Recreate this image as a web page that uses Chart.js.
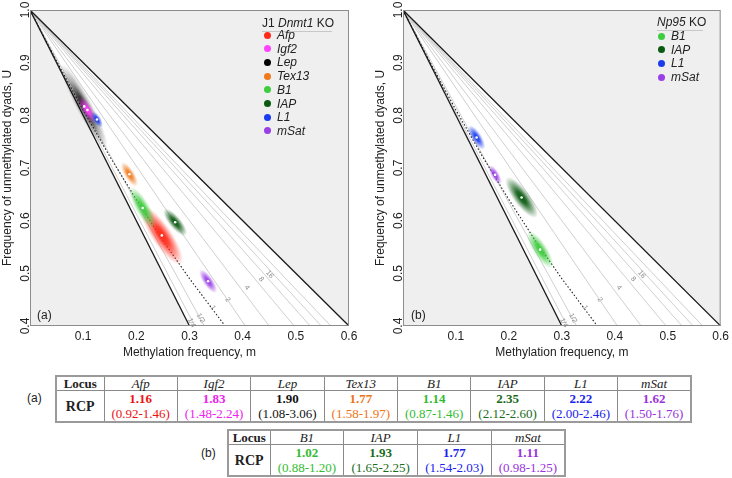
<!DOCTYPE html>
<html><head><meta charset="utf-8">
<script src="https://cdn.jsdelivr.net/npm/chart.js@4.4.1/dist/chart.umd.min.js"></script>
<style>
body{margin:0;width:732px;height:478px;background:#fff;position:relative;overflow:hidden;font-family:"Liberation Sans",Arial,sans-serif;color:#222}
.panel{position:absolute;top:0}
.leg{position:absolute;font-size:12px;line-height:14px;color:#222;white-space:nowrap}
.leg .ttl{position:absolute;left:0;top:0;padding-bottom:1px;border-bottom:1px solid #c8c8c8}
.leg .it{position:absolute;font-style:italic}
.leg .dot{position:absolute;width:7px;height:7px;border-radius:50%}
.plab{position:absolute;font-size:12px;color:#222}
table{position:absolute;border-collapse:collapse;font-family:"Liberation Serif","Times New Roman",serif;font-size:13px;border:2px solid #9a9a9a;table-layout:fixed}
td{border:1px solid #8a8a8a;text-align:center;padding:0;line-height:15px}
tr.h td{height:13px;line-height:13px;font-style:italic}
tr.h td.lc{font-style:normal;font-weight:bold}
tr.v td{height:30px}
td.rc{font-weight:bold;font-size:14px}
.b{font-weight:bold}
</style></head>
<body>
<div class="panel" style="left:0"><canvas id="cA" width="366" height="370"></canvas></div>
<div class="panel" style="left:366px"><canvas id="cB" width="366" height="370"></canvas></div>
<div id="legA" class="leg" style="left:262px;top:16px"></div>
<div id="legB" class="leg" style="left:657px;top:15px"></div>
<div class="plab" style="left:37px;top:308px">(a)</div>
<div class="plab" style="left:411px;top:308px">(b)</div>
<div class="plab" style="left:27px;top:391px">(a)</div>
<div class="plab" style="left:201px;top:446px">(b)</div>
<table id="tA" style="left:55px;top:375px;width:637px"></table>
<table id="tB" style="left:227px;top:429px;width:339px"></table>
<script>
// ---------- data ----------
const lociA = ['Afp','Igf2','Lep','Tex13','B1','IAP','L1','mSat'];
const mA    = [0.248, 0.108, 0.102, 0.187, 0.212, 0.273, 0.126, 0.335];
const uA    = [0.572, 0.810, 0.817, 0.688, 0.624, 0.597, 0.792, 0.485];
const rcpA  = ['1.16','1.83','1.90','1.77','1.14','2.35','2.22','1.62'];
const ciA   = ['0.92-1.46','1.48-2.24','1.08-3.06','1.58-1.97','0.87-1.46','2.12-2.60','2.00-2.46','1.50-1.76'];

const lociB = ['B1','IAP','L1','mSat'];
const mB    = [0.259, 0.224, 0.139, 0.174];
const uB    = [0.545, 0.644, 0.758, 0.687];
const rcpB  = ['1.02','1.93','1.77','1.11'];
const ciB   = ['0.88-1.20','1.65-2.25','1.54-2.03','0.98-1.25'];

const xTicks = [0.1, 0.2, 0.3, 0.4, 0.5, 0.6];
const xTickLabels = ['0.1','0.2','0.3','0.4','0.5','0.6'];
const yTicks = [0.4, 0.5, 0.6, 0.7, 0.8, 0.9, 1.0];
const yTickLabels = ['0.4','0.5','0.6','0.7','0.8','0.9','1.0'];

// boundary lines (m, U)
const lowerM = [0, 0.3],  lowerU = [1, 0.4];
const upperM = [0, 0.6],  upperU = [1, 0.4];
// grey RCP contour lines: end m at U = 0.4
const contourEnds = [0.31, 0.328, 0.405, 0.45, 0.497, 0.527, 0.548, 0.566];
// dotted line (RCP = 1)
const dotM = [0, 0.05, 0.1, 0.15, 0.2, 0.25, 0.3, 0.367];
const dotU = [1, 0.903, 0.81, 0.722, 0.64, 0.562, 0.49, 0.4];
// contour labels
const labTxt = ['1/4','1/2','1','2','4','8','16'];
const labM   = [0.304, 0.321, 0.344, 0.372, 0.408, 0.435, 0.451];
const labU   = [0.406, 0.415, 0.435, 0.450, 0.473, 0.489, 0.498];
const labEnd = [0.31, 0.328, 0.367, 0.405, 0.45, 0.497, 0.527];

// ---------- styles ----------
const col = {Afp:'#ff2a1a', Igf2:'#ff44ff', Lep:'#000000', Tex13:'#f07a1e', B1:'#3fcc3f', IAP:'#0b5a12', L1:'#1a3cee', mSat:'#9a3ee6'};
const tcol = {Afp:'#ee1111', Igf2:'#ee22ee', Lep:'#111111', Tex13:'#ee7418', B1:'#33bb33', IAP:'#1a6b1a', L1:'#1a22ee', mSat:'#9933dd'};
// semi-major, semi-minor, rotation(deg)
const blobA = {Afp:[35,10,56], Igf2:[15,5,60], Lep:[48,8,62], Tex13:[14,5,58], B1:[24,7,60], IAP:[17,6,50], L1:[9,4,58], mSat:[14,5,55]};
const blobB = {B1:[22,7,57], IAP:[25,8,53], L1:[14,5,58], mSat:[11,4,60]};

function hexRgb(h){return [parseInt(h.substr(1,2),16),parseInt(h.substr(3,2),16),parseInt(h.substr(5,2),16)];}
function blobImg(color, a, b, soft){
  const c = document.createElement('canvas');
  c.width = 2*a+4; c.height = 2*b+4;
  const x = c.getContext('2d');
  const [r,g,bl] = hexRgb(color);
  const rg = (al)=>`rgba(${r},${g},${bl},${al})`;
  x.translate(c.width/2, c.height/2);
  x.scale(a, b);
  const gr = x.createRadialGradient(0,0,0,0,0,1);
  if (soft){
    gr.addColorStop(0, rg(0.95)); gr.addColorStop(0.25, rg(0.75)); gr.addColorStop(0.6, rg(0.3)); gr.addColorStop(1, rg(0));
  } else {
    gr.addColorStop(0, rg(1)); gr.addColorStop(0.3, rg(0.9)); gr.addColorStop(0.65, rg(0.45)); gr.addColorStop(1, rg(0));
  }
  x.fillStyle = gr;
  x.beginPath(); x.arc(0,0,1,0,Math.PI*2); x.fill();
  return c;
}

const bgPlugin = {
  id:'bg',
  beforeDatasetsDraw(chart){
    const {ctx, chartArea:a} = chart;
    ctx.save(); ctx.fillStyle = '#efefef';
    ctx.fillRect(a.left, a.top, a.right-a.left, a.bottom-a.top); ctx.restore();
  },
  afterDatasetsDraw(chart){
    const {ctx, chartArea:a, scales:{x, y}} = chart;
    ctx.save();
    ctx.font = '7px "Liberation Sans", Arial, sans-serif';
    ctx.fillStyle = '#8a8a8a';
    ctx.textAlign = 'center'; ctx.textBaseline = 'middle';
    for (let i=0;i<labTxt.length;i++){
      const px = x.getPixelForValue(labM[i]), py = y.getPixelForValue(labU[i]);
      const dx = x.getPixelForValue(labEnd[i]) - x.getPixelForValue(0);
      const dy = y.getPixelForValue(0.4) - y.getPixelForValue(1);
      ctx.save(); ctx.translate(px, py); ctx.rotate(Math.atan2(dy, dx)); ctx.fillText(labTxt[i], 0, 0); ctx.restore();
    }
    ctx.strokeStyle = '#8c8c8c'; ctx.lineWidth = 1;
    ctx.strokeRect(a.left+0.5, a.top+0.5, a.right-a.left-1, a.bottom-a.top-1);
    ctx.restore();
  }
};

function build(id, loci, mv, uv, bst, padLeft, padRight){
  const ds = [];
  const pts = (ms, us) => ms.map((m,i)=>({x:m, y:us[i]}));
  ds.push({data:pts(upperM, upperU), showLine:true, borderWidth:0, pointRadius:0, fill:{value:0.4}, backgroundColor:'#ffffff', order:100});
  ds.push({data:pts(lowerM, lowerU), showLine:true, borderWidth:0, pointRadius:0, fill:{value:0.4}, backgroundColor:'#efefef', order:99});
  contourEnds.forEach(e => ds.push({data:[{x:0,y:1},{x:e,y:0.4}], showLine:true, borderColor:'#c9c9c9', borderWidth:0.9, pointRadius:0, fill:false, order:90}));
  ds.push({data:pts(dotM, dotU), showLine:true, borderColor:'#222', borderWidth:1.1, borderDash:[1.5,2], pointRadius:0, fill:false, order:80});
  ds.push({data:pts(upperM, upperU), showLine:true, borderColor:'#1a1a1a', borderWidth:1.3, pointRadius:0, fill:false, order:70});
  ds.push({data:pts(lowerM, lowerU), showLine:true, borderColor:'#1a1a1a', borderWidth:1.3, pointRadius:0, fill:false, order:70});
  loci.forEach((l,i) => {
    const [a,b,r] = bst[l];
    ds.push({data:[{x:mv[i], y:uv[i]}], pointStyle: blobImg(col[l], a, b, l==='Lep'), rotation:r, pointRadius:a, order: l==='Lep' ? 60 : 50 - i});
  });
  ds.push({data:pts(mv, uv), pointRadius:1.3, pointBackgroundColor:'#ffffff', pointBorderWidth:0, order:1});
  const font = {size:12, family:'"Liberation Sans", Arial, sans-serif'};
  new Chart(document.getElementById(id), {
    type:'scatter',
    data:{datasets:ds},
    plugins:[bgPlugin],
    options:{
      responsive:false, animation:false, devicePixelRatio:1, events:[],
      layout:{autoPadding:false, padding:{left:padLeft, right:padRight, top:10, bottom:10}},
      plugins:{legend:{display:false}, tooltip:{enabled:false}},
      scales:{
        x:{type:'linear', min:0, max:0.6,
           afterBuildTicks: s => { s.ticks = xTicks.map(v=>({value:v})); },
           afterFit: s => { s.height = 34; },
           grid:{display:false, drawTicks:false, tickLength:0}, border:{display:false},
           ticks:{color:'#222', font, padding:3, callback:(v,i)=>xTickLabels[i]},
           title:{display:true, text:'Methylation frequency, m', color:'#222', padding:{top:0,bottom:0}, font}},
        y:{type:'linear', min:0.4, max:1.0,
           afterBuildTicks: s => { s.ticks = yTicks.map(v=>({value:v})); },
           afterFit: s => { s.width = 30; },
           grid:{display:false, drawTicks:false, tickLength:0}, border:{display:false},
           ticks:{color:'#222', minRotation:90, maxRotation:90, crossAlign:'center', padding:-4, font, callback:(v,i)=>yTickLabels[i]},
           title:{display:true, text:'Frequency of unmethylated dyads, U', color:'#222', padding:{top:0,bottom:0}, font}}
      }
    }
  });
}
build('cA', lociA, mA, uA, blobA, 0, 17);
build('cB', lociB, mB, uB, blobB, 7, 10);

// ---------- legends ----------
function legend(id, titleHtml, loci, x0dot, x0lab, rowTop, step, ttlW){
  const el = document.getElementById(id);
  let h = `<div class="ttl" style="width:${ttlW}px">${titleHtml}</div>`;
  loci.forEach((l,i)=>{
    const cy = rowTop + i*step;
    h += `<div class="dot" style="left:${x0dot-3.5}px;top:${cy-3.5}px;background:${col[l]}"></div>`;
    h += `<div class="it" style="left:${x0lab}px;top:${cy-7}px">${l}</div>`;
  });
  el.innerHTML = h;
}
legend('legA', 'J1 <i>Dnmt1</i> KO', lociA, 5, 15, 19, 13.7, 70);
legend('legB', '<i>Np95</i> KO', lociB, 4, 14, 21, 13.7, 46);

// ---------- tables ----------
function table(id, loci, rcp, ci, locW){
  const t = document.getElementById(id);
  let h = `<colgroup><col style="width:${locW}px">` + loci.map(()=>'<col>').join('') + '</colgroup>';
  h += '<tr class="h"><td class="lc">Locus</td>' + loci.map(l=>`<td>${l}</td>`).join('') + '</tr>';
  h += '<tr class="v"><td class="rc">RCP</td>' + loci.map((l,i)=>`<td style="color:${tcol[l]}"><div class="b">${rcp[i]}</div><div>(${ci[i]})</div></td>`).join('') + '</tr>';
  t.innerHTML = h;
}
table('tA', lociA, rcpA, ciA, 48);
table('tB', lociB, rcpB, ciB, 42);
</script>
</body></html>
